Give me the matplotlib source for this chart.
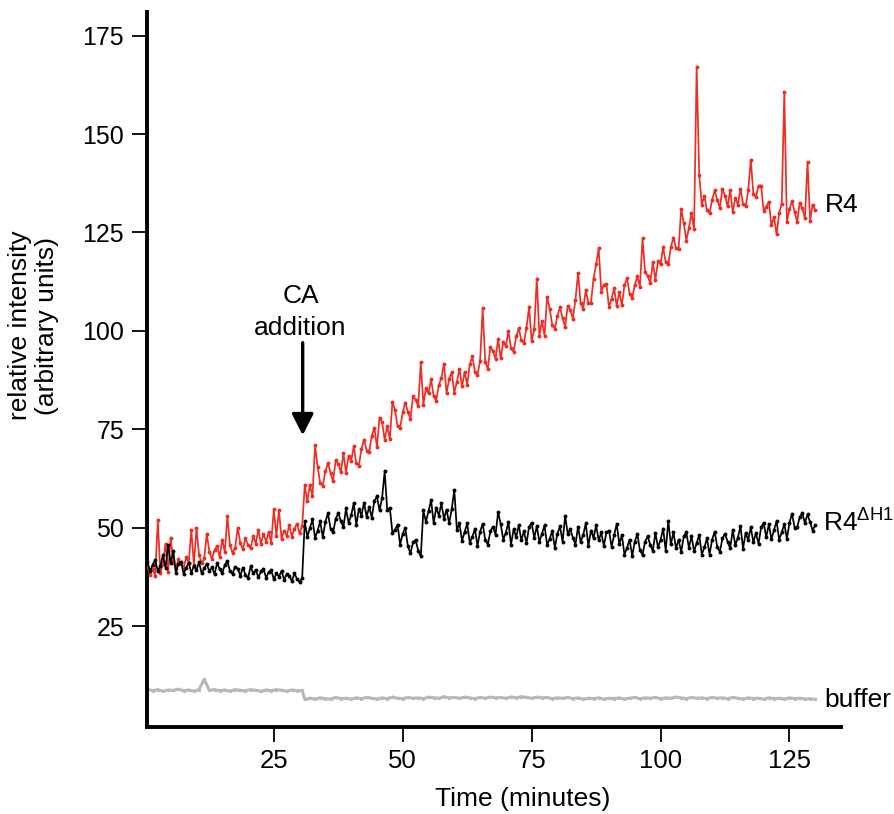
import numpy as np
import matplotlib
matplotlib.use("Agg")
import matplotlib.pyplot as plt

plt.rcParams['font.family'] = ['Liberation Sans', 'DejaVu Sans']
plt.rcParams['mathtext.fontset'] = 'custom'
plt.rcParams['mathtext.rm'] = 'Liberation Sans'
plt.rcParams['mathtext.it'] = 'Liberation Sans'

# ---------------- data (relative intensity, sampled every 0.5 min) ----------------
# R4 before CA addition: t = 0.5 ... 30.5 min
r4_pre = [40.2, 38.0, 39.6, 37.8, 52.0, 38.5, 40.9, 46.0, 38.7, 47.5,
          41.3, 39.6, 42.0, 40.8, 39.7, 42.5, 41.1, 49.5, 40.6, 50.0,
          43.1, 41.0, 42.2, 48.5, 43.9, 42.1, 44.3, 45.4, 42.6, 47.0,
          43.8, 53.0, 45.5, 43.6, 44.9, 50.0, 46.2, 44.5, 47.3, 45.6,
          44.8, 47.9, 46.0, 49.5, 45.9, 48.4, 46.5, 48.9, 46.2, 54.7,
          47.9, 54.5, 47.1, 49.3, 48.0, 50.6, 47.7, 49.8, 51.0, 48.6,
          50.4]
# R4 after CA addition: t = 31.0 ... 130.0 min
r4_post = [60.8, 56.8, 60.9, 58.0, 71.0, 65.4, 61.3, 60.7, 64.3, 66.5,
           63.9, 61.8, 67.2, 66.2, 64.1, 68.9, 64.0, 68.2, 66.9, 70.7,
           66.4, 65.8, 70.0, 72.4, 69.6, 69.3, 73.4, 75.4, 70.5, 78.0,
           76.8, 72.3, 75.9, 72.5, 82.0, 79.8, 75.9, 75.4, 79.3, 81.8,
           79.4, 77.7, 83.4, 82.5, 80.9, 92.0, 81.3, 85.4, 84.1, 87.7,
           83.4, 82.3, 86.2, 88.1, 91.7, 84.2, 87.8, 89.5, 84.3, 87.0,
           90.4, 85.9, 89.6, 86.3, 91.5, 93.5, 89.6, 88.9, 92.3, 105.7,
           92.2, 90.3, 95.9, 94.9, 92.9, 97.9, 93.0, 97.3, 96.1, 99.9,
           95.6, 94.7, 98.6, 100.7, 97.6, 97.0, 100.8, 106.0, 97.5, 100.4,
           113.3, 98.8, 102.4, 98.8, 108.6, 105.6, 101.5, 100.6, 103.8, 106.0,
           103.2, 101.1, 106.4, 105.3, 103.1, 107.9, 114.7, 107.0, 105.6, 110.3,
           107.1, 107.1, 113.2, 116.9, 121.0, 110.0, 111.7, 111.9, 106.0, 108.2,
           110.8, 106.3, 109.9, 106.5, 111.6, 113.4, 109.3, 108.4, 111.6, 113.9,
           111.2, 123.5, 114.9, 114.0, 112.1, 117.4, 113.0, 117.7, 116.9, 121.2,
           117.4, 116.9, 121.3, 123.7, 121.0, 120.9, 131.0, 127.4, 122.9, 126.2,
           129.9, 125.8, 167.0, 139.5, 132.1, 134.3, 130.6, 129.9, 133.3, 135.7,
           133.2, 131.3, 136.1, 134.3, 131.6, 135.8, 130.2, 133.8, 132.1, 136.1,
           132.2, 131.6, 135.7, 143.5, 134.7, 134.0, 136.9, 136.9, 130.5, 131.5,
           132.8, 126.8, 128.9, 124.5, 129.9, 132.3, 160.6, 127.7, 130.9, 133.0,
           130.2, 127.7, 132.6, 131.1, 128.6, 143.0, 128.0, 132.1, 130.6]

# R4 dH1 before CA addition: t = 0.5 ... 30.5 min
dh1_pre = [41.2, 38.9, 40.6, 41.8, 39.0, 40.3, 43.0, 39.8, 45.5, 41.0,
           44.2, 38.6, 40.9, 41.4, 38.3, 39.9, 41.1, 38.5, 40.4, 39.2,
           41.3, 38.4, 39.7, 40.8, 38.9, 40.0, 38.2, 41.0, 39.5, 38.4,
           40.6, 41.5, 39.0, 38.3, 40.1, 39.6, 37.8, 39.9, 38.1, 37.2,
           40.2, 38.4, 39.3, 37.4, 38.9, 39.6, 37.3, 38.7, 39.2, 36.9,
           38.4, 37.6, 39.0, 36.8, 38.2, 37.7, 36.5, 38.4, 37.0, 36.2,
           37.2]
# R4 dH1 after CA addition: t = 31.0 ... 130.0 min
dh1_post = [51.6, 47.7, 49.9, 52.1, 47.4, 49.3, 51.6, 47.6, 51.5, 53.7,
            49.8, 48.8, 52.3, 53.7, 51.7, 50.1, 54.9, 51.2, 53.2, 56.2,
            50.7, 54.8, 53.1, 56.4, 52.8, 55.3, 52.6, 56.8, 58.0, 54.4,
            57.6, 64.3, 54.4, 55.1, 48.7, 49.5, 50.8, 45.7, 48.5, 49.9,
            45.3, 43.5, 46.3, 46.9, 44.2, 42.7, 54.4, 51.5, 54.2, 57.0,
            51.2, 55.1, 53.1, 56.2, 52.3, 54.6, 51.1, 54.7, 59.6, 49.5,
            51.1, 46.7, 48.9, 51.1, 46.2, 47.7, 49.7, 45.4, 49.0, 51.0,
            47.0, 45.7, 49.1, 50.3, 48.2, 54.0, 50.9, 47.0, 48.7, 51.5,
            45.7, 49.6, 47.6, 50.7, 46.8, 49.1, 46.1, 50.2, 51.3, 47.4,
            50.4, 46.4, 48.5, 50.6, 45.6, 47.2, 49.2, 44.9, 48.5, 50.4,
            46.4, 53.0, 48.5, 49.6, 47.5, 45.7, 50.3, 46.4, 48.2, 51.1,
            45.4, 49.3, 47.4, 50.6, 46.8, 48.8, 45.4, 48.8, 49.3, 45.2,
            48.1, 51.0, 45.9, 48.1, 43.2, 44.9, 47.0, 42.8, 46.5, 48.4,
            44.3, 43.1, 46.5, 47.8, 45.7, 44.1, 48.7, 45.0, 46.9, 49.8,
            44.2, 51.7, 45.8, 48.8, 44.8, 47.0, 43.8, 47.8, 48.8, 44.9,
            47.9, 44.0, 46.1, 48.2, 43.2, 45.0, 47.3, 43.2, 47.0, 49.0,
            45.1, 43.9, 47.3, 48.5, 46.5, 44.8, 49.4, 45.6, 47.5, 50.4,
            44.7, 48.7, 46.9, 50.1, 46.3, 48.7, 45.9, 50.1, 51.3, 47.6,
            50.9, 47.1, 49.4, 51.7, 47.0, 48.8, 51.0, 47.2, 51.3, 53.6,
            50.0, 50.1, 52.8, 53.7, 51.2, 53.4, 51.4, 49.3, 50.7]

# buffer, sampled every 1 min: t = 0.5 ... 30.5 and 31 ... 130
buf_pre = [9.0, 8.6, 8.9, 8.5, 8.8, 8.7, 9.0, 8.6, 8.8, 8.5,
           8.9, 11.5, 8.7, 8.9, 8.6, 8.8, 8.5, 8.9, 8.7, 8.6,
           8.9, 8.7, 8.5, 8.8, 8.6, 8.9, 8.7, 8.5, 8.8, 8.6,
           8.7]
buf_post = [6.4, 6.7, 6.5, 6.8, 6.6, 6.5, 6.9, 6.6, 6.7, 6.5,
            6.8, 6.6, 6.9, 6.7, 6.5, 6.8, 6.6, 7.0, 6.7, 6.6,
            6.9, 6.7, 6.8, 6.6, 7.0, 6.8, 6.7, 7.1, 6.8, 6.9,
            6.7, 7.0, 6.8, 6.6, 6.9, 6.7, 7.0, 6.8, 6.9, 6.7,
            7.0, 6.8, 7.1, 6.9, 6.7, 7.0, 6.8, 6.9, 6.6, 6.8,
            6.7, 6.9, 6.6, 6.8, 6.5, 6.7, 6.6, 6.8, 6.5, 6.7,
            6.6, 6.8, 6.5, 6.7, 6.9, 6.6, 6.8, 6.7, 6.9, 6.6,
            6.8, 6.7, 7.0, 6.8, 6.6, 6.9, 6.7, 6.8, 6.6, 6.9,
            6.7, 6.8, 6.6, 6.9, 6.7, 6.5, 6.8, 6.6, 6.7, 6.5,
            6.8, 6.6, 6.7, 6.5, 6.8, 6.6, 6.7, 6.5, 6.6, 6.4]

ca_time = 30.6
x_ticks = [25, 50, 75, 100, 125]
y_ticks = [25, 50, 75, 100, 125, 150, 175]

def times(pre, post, start_pre, start_post, step):
    t1 = start_pre + step * np.arange(len(pre))
    t2 = start_post + step * np.arange(len(post))
    return np.concatenate([t1, t2]), np.concatenate([pre, post])

t_r4, y_r4 = times(r4_pre, r4_post, 0.5, 31.0, 0.5)
t_dh, y_dh = times(dh1_pre, dh1_post, 0.5, 31.0, 0.5)
t_bf, y_bf = times(buf_pre, buf_post, 0.5, 31.0, 1.0)

# ---------------- figure ----------------
fig = plt.figure(figsize=(8.95, 8.14), dpi=100)
ax = fig.add_axes([0.1642, 0.1069, 0.7755, 0.8784])

red = '#ee2d24'
ax.plot(t_r4, y_r4, color=red, lw=1.25, marker='o', ms=2.8, mew=0, zorder=3)
ax.plot(t_dh, y_dh, color='black', lw=1.25, marker='o', ms=2.8, mew=0, zorder=4)
ax.plot(t_bf, y_bf, color='#b8b8b8', lw=2.2, marker='o', ms=2.4, mew=0, zorder=2)

ax.set_xlim(0.4, 135)
ax.set_ylim(-0.6, 181)

for s in ['top', 'right']:
    ax.spines[s].set_visible(False)
for s in ['left', 'bottom']:
    ax.spines[s].set_linewidth(2.8)

ax.set_xticks(x_ticks)
ax.set_yticks(y_ticks)
ax.tick_params(axis='both', direction='out', length=10.5, width=1.3, color='black')
ax.tick_params(axis='y', pad=6, labelsize=18)
ax.tick_params(axis='x', pad=5, labelsize=18.5)

fig.text(523 / 895, 1 - 799 / 814, 'Time (minutes)', ha='center', va='center',
         fontsize=19)
fig.text(0.0375, 0.60, 'relative intensity\n(arbitrary units)', rotation=90,
         ha='center', va='center', fontsize=19, linespacing=1.15)

# CA addition annotation
ax.text(30.2, 107.2, 'CA', ha='center', va='baseline', fontsize=19)
ax.text(30.2, 98.9, 'addition', ha='center', va='baseline', fontsize=19)
ax.annotate('', xy=(ca_time, 73.5), xytext=(ca_time, 97.0),
            arrowprops=dict(arrowstyle='-|>,head_width=0.33,head_length=0.65',
                            lw=2.4, color='black', mutation_scale=20,
                            shrinkA=0, shrinkB=0))

# series labels
ax.text(131.8, 130.2, 'R4', ha='left', va='baseline', fontsize=19, clip_on=False)
ax.text(131.5, 48.9, r'R4$^{\mathregular{ΔH1}}$', ha='left', va='baseline',
        fontsize=19, clip_on=False)
ax.text(131.8, 4.5, 'buffer', ha='left', va='baseline', fontsize=19, clip_on=False)

fig.savefig('out.png', dpi=100)
